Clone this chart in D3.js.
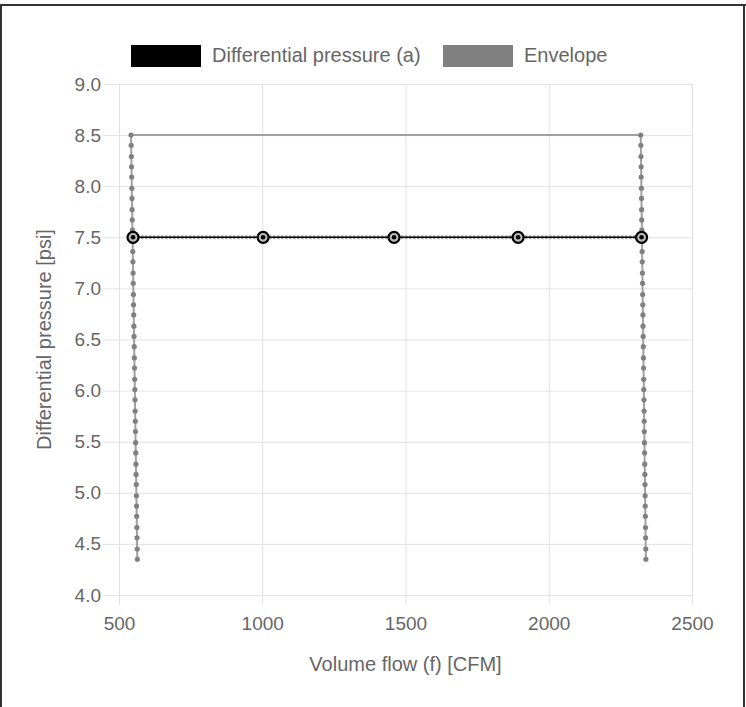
<!DOCTYPE html>
<html>
<head>
<meta charset="utf-8">
<script src="https://cdn.jsdelivr.net/npm/d3@7"></script>
<style>
  body { margin: 0; background: #fff; }
  svg { display: block; font-family: "Liberation Sans", Arial, sans-serif; }
</style>
</head>
<body>
<svg id="chart" width="746" height="707"></svg>
<script>
// Differential pressure (a) series
const flowPoints = [549, 1003, 1460, 1893, 2324];
const pressurePoints = [7.5, 7.5, 7.5, 7.5, 7.5];

// Envelope: left side (bottom -> top) then right side (top -> bottom)
const envPressure = [8.50, 8.40, 8.29, 8.19, 8.09, 7.98, 7.88, 7.77, 7.67, 7.57, 7.46,
  7.36, 7.26, 7.15, 7.05, 6.94, 6.84, 6.74, 6.63, 6.53, 6.43, 6.32, 6.22, 6.11, 6.01,
  5.91, 5.80, 5.70, 5.60, 5.49, 5.39, 5.28, 5.18, 5.08, 4.97, 4.87, 4.77, 4.66, 4.56,
  4.45, 4.35];
const envFlowLeft = [542.0, 542.6, 543.1, 543.7, 544.2, 544.8, 545.3, 545.9, 546.4, 547.0,
  547.5, 548.1, 548.6, 549.2, 549.7, 550.3, 550.8, 551.4, 551.9, 552.5, 553.0, 553.6,
  554.1, 554.7, 555.2, 555.8, 556.3, 556.9, 557.4, 558.0, 558.5, 559.1, 559.6, 560.2,
  560.7, 561.3, 561.8, 562.4, 562.9, 563.5, 564.0];
const envFlowRight = [2321.0, 2321.5, 2321.9, 2322.4, 2322.8, 2323.3, 2323.7, 2324.2,
  2324.6, 2325.1, 2325.5, 2326.0, 2326.4, 2326.9, 2327.3, 2327.8, 2328.2, 2328.7, 2329.1,
  2329.6, 2330.0, 2330.5, 2330.9, 2331.4, 2331.8, 2332.3, 2332.7, 2333.2, 2333.6, 2334.1,
  2334.5, 2335.0, 2335.4, 2335.9, 2336.3, 2336.8, 2337.2, 2337.7, 2338.1, 2338.6, 2339.0];

const xTicks = [500, 1000, 1500, 2000, 2500];
const yTicks = [4.0, 4.5, 5.0, 5.5, 6.0, 6.5, 7.0, 7.5, 8.0, 8.5, 9.0];
const legendItems = ["Differential pressure (a)", "Envelope"];
const legendColors = ["#000000", "#808080"];

const plot = { left: 119, right: 692, top: 84, bottom: 595 };
const textColor = "#666";
const gridColor = "#e2e2e2";

const svg = d3.select("#chart");

// frame of the surrounding panel
svg.append("line").attr("x1", 0).attr("x2", 746).attr("y1", 5).attr("y2", 5)
  .attr("stroke", "#333").attr("stroke-width", 2);
svg.append("line").attr("x1", 1).attr("x2", 1).attr("y1", 4).attr("y2", 707)
  .attr("stroke", "#333").attr("stroke-width", 2);
svg.append("line").attr("x1", 744).attr("x2", 744).attr("y1", 4).attr("y2", 707)
  .attr("stroke", "#333").attr("stroke-width", 2);

const x = d3.scaleLinear().domain([500, 2500]).range([plot.left, plot.right]);
const y = d3.scaleLinear().domain([4.0, 9.0]).range([plot.bottom, plot.top]);

// grid + axes
const xAxis = svg.append("g")
  .attr("transform", `translate(0,${plot.bottom})`)
  .call(d3.axisBottom(x).tickValues(xTicks).tickFormat(d3.format("d"))
    .tickSizeInner(-(plot.bottom - plot.top)).tickSizeOuter(0).tickPadding(28));
const yAxis = svg.append("g")
  .attr("transform", `translate(${plot.left},0)`)
  .call(d3.axisLeft(y).tickValues(yTicks).tickFormat(d3.format(".1f"))
    .tickSizeInner(-(plot.right - plot.left)).tickSizeOuter(0).tickPadding(18));

[xAxis, yAxis].forEach(ax => {
  ax.select(".domain").remove();
  ax.selectAll(".tick line").attr("stroke", gridColor);
  ax.selectAll(".tick text").attr("fill", textColor).style("font-size", "19px");
});
// tick marks outside the plot
xAxis.selectAll(".tick").append("line").attr("y1", 0).attr("y2", 10).attr("stroke", gridColor);
yAxis.selectAll(".tick").append("line").attr("x1", 0).attr("x2", -16).attr("stroke", gridColor);
xAxis.selectAll(".tick text").attr("dy", "0.35em");

// axis titles
svg.append("text")
  .attr("x", (plot.left + plot.right) / 2).attr("y", 671)
  .attr("text-anchor", "middle").attr("fill", textColor).style("font-size", "20px")
  .text("Volume flow (f) [CFM]");
svg.append("text")
  .attr("transform", `translate(51,${(plot.top + plot.bottom) / 2}) rotate(-90)`)
  .attr("text-anchor", "middle").attr("fill", textColor).style("font-size", "20px")
  .text("Differential pressure [psi]");

// envelope
const envelope = envFlowLeft.map((f, i) => ({ f, p: envPressure[i] })).reverse()
  .concat(envFlowRight.map((f, i) => ({ f, p: envPressure[i] })));
const line = d3.line().x(d => x(d.f)).y(d => y(d.p));

svg.append("path").datum(envelope)
  .attr("d", line).attr("fill", "none")
  .attr("stroke", "#a0a0a0").attr("stroke-width", 2);
svg.append("g").selectAll("circle").data(envelope).join("circle")
  .attr("cx", d => x(d.f)).attr("cy", d => y(d.p)).attr("r", 2.6)
  .attr("fill", "#808080");

// differential pressure series
const series = flowPoints.map((f, i) => ({ f, p: pressurePoints[i] }));
svg.append("path").datum(series)
  .attr("d", line).attr("fill", "none")
  .attr("stroke", "#aaa").attr("stroke-width", 4).attr("stroke-dasharray", "2.5 1.5");
svg.append("path").datum(series)
  .attr("d", line).attr("fill", "none")
  .attr("stroke", "#000").attr("stroke-width", 1.6);
const marks = svg.append("g").selectAll("g").data(series).join("g")
  .attr("transform", d => `translate(${x(d.f)},${y(d.p)})`);
marks.append("circle").attr("r", 5.5).attr("fill", "#bdbdbd")
  .attr("stroke", "#000").attr("stroke-width", 2.2);
marks.append("circle").attr("r", 2.3).attr("fill", "#000");

// legend
const legendX = [131, 443];
const legend = svg.append("g").selectAll("g").data(legendItems).join("g")
  .attr("transform", (d, i) => `translate(${legendX[i]},45)`);
legend.append("rect").attr("width", 70).attr("height", 22)
  .attr("fill", (d, i) => legendColors[i]);
legend.append("text").attr("x", 81).attr("y", 17)
  .attr("fill", textColor).style("font-size", "20px")
  .text(d => d);
</script>
</body>
</html>
